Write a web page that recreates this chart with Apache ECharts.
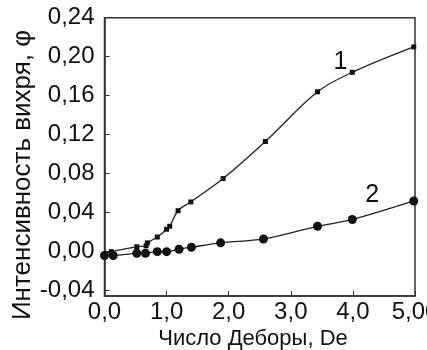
<!DOCTYPE html>
<html>
<head>
<meta charset="utf-8">
<script src="https://cdn.jsdelivr.net/npm/echarts@6/dist/echarts.min.js"></script>
<style>
  html, body { margin: 0; padding: 0; background: #ffffff; }
  #chart { width: 427px; height: 350px; }
</style>
</head>
<body>
<div id="chart"></div>
<script>
// Curve 1: squares
const deborah1 = [0.0, 0.11, 0.52, 0.67, 0.69, 0.85, 1.0, 1.05, 1.185, 1.39, 1.91, 2.59, 3.43, 3.99, 4.98];
const vortex1  = [-0.003, 0.0, 0.005, 0.006, 0.009, 0.015, 0.023, 0.026, 0.042, 0.051, 0.075, 0.113, 0.164, 0.184, 0.210];

// Curve 2: circles
const deborah2 = [0.0, 0.14, 0.52, 0.66, 0.85, 1.0, 1.20, 1.40, 1.87, 2.56, 3.43, 3.99, 4.98];
const vortex2  = [-0.004, -0.004, -0.0017, -0.0017, 0.0, 0.0, 0.0025, 0.0045, 0.009, 0.013, 0.026, 0.033, 0.052];

// Axis tick values and their printed labels
const xTicks = [0, 1, 2, 3, 4, 5];
const xTickLabels = ['0,0', '1,0', '2,0', '3,0', '4,0', '5,00'];
const yTicks = [-0.04, 0.00, 0.04, 0.08, 0.12, 0.16, 0.20, 0.24];
const yTickLabels = ['-0,04', '0,00', '0,04', '0,08', '0,12', '0,16', '0,20', '0,24'];

// Axis titles
const xTitle = 'Число Деборы, De';
const yTitle = 'Интенсивность вихря, φ';

// Curve number labels, placed in data units
const curveTags = [
  { text: '1', x: 3.8, y: 0.1946 },
  { text: '2', x: 4.31, y: 0.058 }
];

const pair = (xs, ys) => xs.map((x, i) => [x, ys[i]]);
const labelFor = (ticks, labels) => v => {
  const i = ticks.findIndex(t => Math.abs(t - v) < 1e-9);
  return i >= 0 ? labels[i] : '';
};
const FONT = '"Liberation Sans", Arial, sans-serif';
const INK = '#111';

const chart = echarts.init(document.getElementById('chart'), null, { renderer: 'canvas' });

const option = {
  backgroundColor: '#ffffff',
  animation: false,
  grid: {
    left: 104.5, right: 12, top: 17.7, bottom: 54,
    outerBoundsMode: 'none',
    containLabel: false,
    show: true, borderColor: '#333', borderWidth: 1.5, backgroundColor: 'transparent'
  },
  xAxis: {
    type: 'value',
    min: 0, max: 5, interval: 1,
    axisLine: { show: true, onZero: false, lineStyle: { color: '#333', width: 1.5 } },
    axisTick: { show: true, inside: true, length: 5, customValues: xTicks, lineStyle: { color: '#333', width: 1 } },
    axisLabel: {
      color: INK, fontFamily: FONT, fontSize: 24, margin: 4,
      customValues: xTicks,
      hideOverlap: false,
      formatter: labelFor(xTicks, xTickLabels)
    },
    splitLine: { show: false }
  },
  yAxis: {
    type: 'value',
    min: -0.0455, max: 0.24,
    axisLine: { show: true, onZero: false, lineStyle: { color: '#333', width: 1.5 } },
    axisTick: { show: true, inside: true, length: 5, customValues: yTicks, lineStyle: { color: '#333', width: 1 } },
    axisLabel: {
      color: INK, fontFamily: FONT, fontSize: 24, margin: 10,
      customValues: yTicks,
      formatter: labelFor(yTicks, yTickLabels)
    },
    splitLine: { show: false }
  },
  series: [
    {
      type: 'line',
      data: pair(deborah1, vortex1),
      smooth: 0.35,
      symbol: 'rect',
      symbolSize: 5,
      itemStyle: { color: INK },
      lineStyle: { color: '#222', width: 1.3 },
      clip: false
    },
    {
      type: 'line',
      data: pair(deborah2, vortex2),
      smooth: 0.35,
      symbol: 'circle',
      symbolSize: 9,
      itemStyle: { color: INK },
      lineStyle: { color: '#222', width: 1.3 },
      clip: false
    }
  ]
};

chart.setOption(option);

// Curve numbers at data positions, plus the two axis titles
const tagGraphics = curveTags.map(t => {
  const p = chart.convertToPixel({ gridIndex: 0 }, [t.x, t.y]);
  return {
    type: 'text',
    x: p[0], y: p[1],
    style: { text: t.text, fill: INK, font: '25px ' + FONT, align: 'center', verticalAlign: 'middle' },
    z: 10
  };
});

chart.setOption({
  graphic: tagGraphics.concat([
    {
      type: 'text',
      x: 253, y: 339,
      style: { text: xTitle, fill: INK, font: '22px ' + FONT, align: 'center', verticalAlign: 'middle' }
    },
    {
      type: 'text',
      x: 23, y: 175,
      rotation: Math.PI / 2,
      style: { text: yTitle, fill: INK, font: '26px ' + FONT, align: 'center', verticalAlign: 'middle' }
    }
  ])
});
</script>
</body>
</html>
